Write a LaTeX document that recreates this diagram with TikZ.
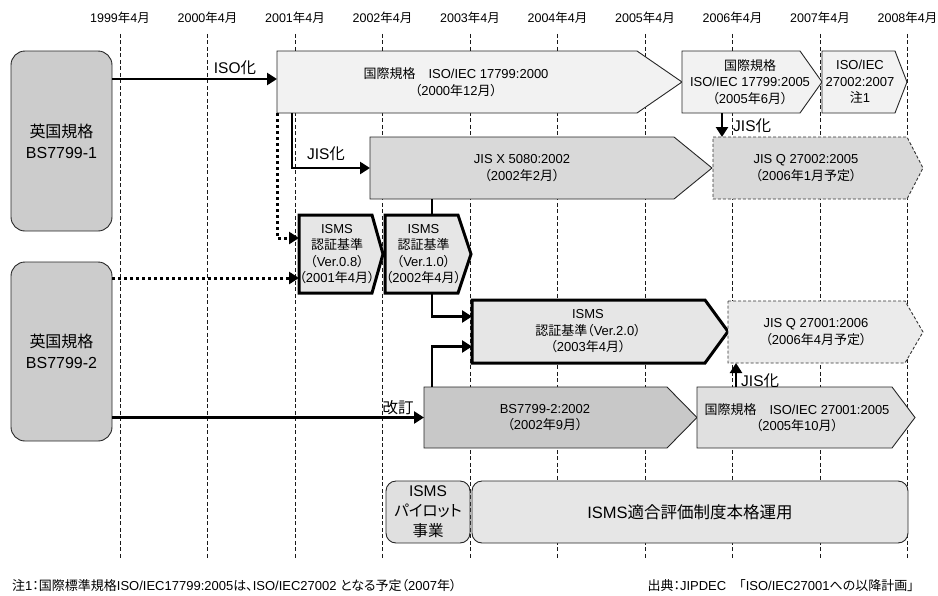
\documentclass[tikz,border=0pt]{standalone}
\usepackage{fontspec}
\setmainfont{Liberation Sans}
\newfontfamily\cjkf[RawFeature=+palt]{Noto Sans CJK JP}
\usetikzlibrary{arrows.meta}
% automatic switch to the CJK font for Japanese characters
\XeTeXinterchartokenstate=1
\newcount\cjkcnt
\def\setcjkrange#1#2{\cjkcnt=#1\relax
  \loop\XeTeXcharclass\cjkcnt=10\relax\ifnum\cjkcnt<#2\advance\cjkcnt by 1\repeat}
\setcjkrange{"3000}{"30FF}
\setcjkrange{"4E00}{"9FFF}
\setcjkrange{"FF00}{"FFEF}
\XeTeXinterchartoks 0 10 = {\cjkf}
\XeTeXinterchartoks 4095 10 = {\cjkf}
\XeTeXinterchartoks 10 0 = {\rmfamily}
\XeTeXinterchartoks 10 4095 = {\rmfamily}

\definecolor{cA}{HTML}{F2F2F2}
\definecolor{cB}{HTML}{D9D9D9}
\definecolor{cC}{HTML}{E6E6E6}
\definecolor{cD}{HTML}{C8C8C8}
\definecolor{cE}{HTML}{E0E0E0}
\definecolor{cF}{HTML}{EBEBEB}
\definecolor{cL}{HTML}{CCCCCC}

\newcommand\pent[9]{%
  \path (#3,#6) coordinate (#1-nw) (#4,#6) coordinate (#1-ne)
        (#5,{(#6+#7)/2}) coordinate (#1-tip) (#4,#7) coordinate (#1-se)
        (#3,#7) coordinate (#1-sw) (#3,{(#6+#7)/2}) coordinate (#1-w);
  \draw[#2] (#1-nw) -- (#1-ne) -- (#1-tip) -- (#1-se) -- (#1-sw) -- cycle;
  \node[bx] (#1) at (#8,{(#6+#7)/2}) {#9};
}

\begin{document}
\begin{tikzpicture}[x=1pt,y=-1pt,
  gridline/.style={draw=black!90, line width=1pt, dash pattern=on 4pt off 2.5pt},
  yr/.style={font=\fontsize{12.5}{14}\selectfont, inner sep=0pt},
  bx/.style={align=center, font=\fontsize{13}{16.5}\selectfont, inner sep=0pt},
  thinbox/.style={draw=black!85, line width=0.9pt, line join=miter},
  thickbox/.style={draw=black, line width=3pt, line join=miter},
  dashbox/.style={draw=black!80, line width=0.9pt, dash pattern=on 3pt off 2pt},
  arr/.style={line width=2.8pt, -{Triangle[length=10pt,width=12pt]}},
  plainline/.style={line width=2.8pt},
  dotarr/.style={line width=3pt, dash pattern=on 3pt off 3pt, -{Triangle[length=10pt,width=12pt]}},
  lbl/.style={font=\fontsize{15.5}{18}\selectfont, inner sep=0pt},
  lbox/.style={draw=black!85, line width=0.9pt, fill=cL, rounded corners=14pt,
    align=center, font=\fontsize{16}{21}\selectfont, inner sep=0pt},
  rbox/.style={draw=black!85, line width=0.9pt, rounded corners=10pt,
    align=center, inner sep=0pt},
  note/.style={font=\fontsize{13}{15}\selectfont, inner sep=0pt}
]
\useasboundingbox (0,0) rectangle (938,595);

% timeline grid
\foreach \k/\yy in {0/1999,1/2000,2/2001,3/2002,4/2003,5/2004,6/2005,7/2006,8/2007,9/2008}{
  \node[yr] (y\yy) at ({120+87.5*\k},18) {\yy{}年4月};
  \draw[gridline] (y\yy.south) ++(0,10) -- ({120+87.5*\k},558);
}

% British standards
\node[lbox, minimum width=101pt, minimum height=180pt] (bs1) at (61.5,141) {英国規格\\BS7799-1};
\node[lbox, minimum width=101pt, minimum height=179pt] (bs2) at (61.5,351.5) {英国規格\\BS7799-2};

% standards
\pent{isoA}{thinbox, fill=cA}{277}{637}{682}{51}{113}{456}{国際規格　ISO/IEC 17799:2000\\（2000年12月）}
\pent{isoB}{thinbox, fill=cA}{682}{800}{822}{51}{113}{750}{国際規格\\ISO/IEC 17799:2005\\（2005年6月）}
\pent{isoC}{thinbox, fill=cA}{822}{895}{907}{51}{113}{860}{ISO/IEC\\27002:2007\\注1}
\pent{jisX}{thinbox, fill=cB}{370}{674}{712}{137}{199}{522}{JIS X 5080:2002\\（2002年2月）}
\pent{jisQb}{dashbox, fill=cB}{713}{907}{923}{137}{199}{806}{JIS Q 27002:2005\\（2006年1月予定）}
\pent{vA}{thickbox, fill=cC}{299}{372}{383}{215}{293}{337}{ISMS\\認証基準\\（Ver.0.8）\\（2001年4月）}
\pent{vB}{thickbox, fill=cC}{385}{458}{471}{215}{293}{423.5}{ISMS\\認証基準\\（Ver.1.0）\\（2002年4月）}
\pent{vC}{thickbox, fill=cC}{472}{705}{728}{300}{363}{588}{ISMS\\認証基準（Ver.2.0）\\（2003年4月）}
\pent{jisQa}{dashbox, fill=cF}{728}{905}{923}{301}{363}{816}{JIS Q 27001:2006\\（2006年4月予定）}
\pent{bsB}{thinbox, fill=cD}{424}{667}{697}{387}{448}{545}{BS7799-2:2002\\（2002年9月）}
\pent{isoD}{thinbox, fill=cE}{697}{892}{915}{387}{448}{797}{国際規格　ISO/IEC 27001:2005\\（2005年10月）}

% operation boxes
\node[rbox, fill=cE, minimum width=84pt, minimum height=62pt,
  font=\fontsize{15.5}{20}\selectfont] (pilot) at (428,512) {ISMS\\パイロット\\事業};
\node[rbox, fill=cC, minimum width=436pt, minimum height=62pt,
  font=\fontsize{16.5}{20}\selectfont] (oper) at (690,512) {ISMS適合評価制度本格運用};

% connectors
\draw[arr] ([yshift=3pt]isoA-w -| bs1.east) -- ([yshift=3pt]isoA-w);
\node[lbl, anchor=base] (lISO) at (235,73) {ISO化};
\draw[arr] ([xshift=15pt]isoA-sw) |- (jisX-w);
\node[lbl, anchor=base] (lJIS1) at (326,159) {JIS化};
\draw[dotarr] (isoA-sw) |- ([yshift=16pt]vA-w);
\draw[dotarr] ([yshift=-24pt]vA-w -| bs2.east) -- ([yshift=-24pt]vA-w);
\draw[plainline] ([xshift=62pt]jisX-sw) -- ([xshift=62pt]jisX-sw |- vB-nw);
\draw[arr] ([xshift=47pt]vB-sw) |- ([yshift=15pt]vC-w);
\draw[arr] ([xshift=8pt]bsB-nw) |- ([yshift=-15pt]vC-w);
\draw[arr] (bsB-w -| bs2.east) -- (bsB-w);
\node[lbl, anchor=base] (lKai) at (398,413) {改訂};
\draw[arr] ([xshift=40pt]isoB-sw) -- ([xshift=40pt]isoB-sw |- jisQb-nw);
\node[lbl, anchor=base west] (lJIS2) at (733,131) {JIS化};
\draw[arr] ([xshift=39pt]isoD-nw) -- ([xshift=39pt]isoD-nw |- jisQa-sw);
\node[lbl, anchor=base west] (lJIS3) at (741,386) {JIS化};

% notes
\node[note, anchor=base west] (n1) at (12,590) {注1：国際標準規格ISO/IEC17799:2005は、ISO/IEC27002 となる予定（2007年）};
\node[note, anchor=base east] (n2) at (914,590) {出典：JIPDEC　「ISO/IEC27001への以降計画」};
\end{tikzpicture}
\end{document}
